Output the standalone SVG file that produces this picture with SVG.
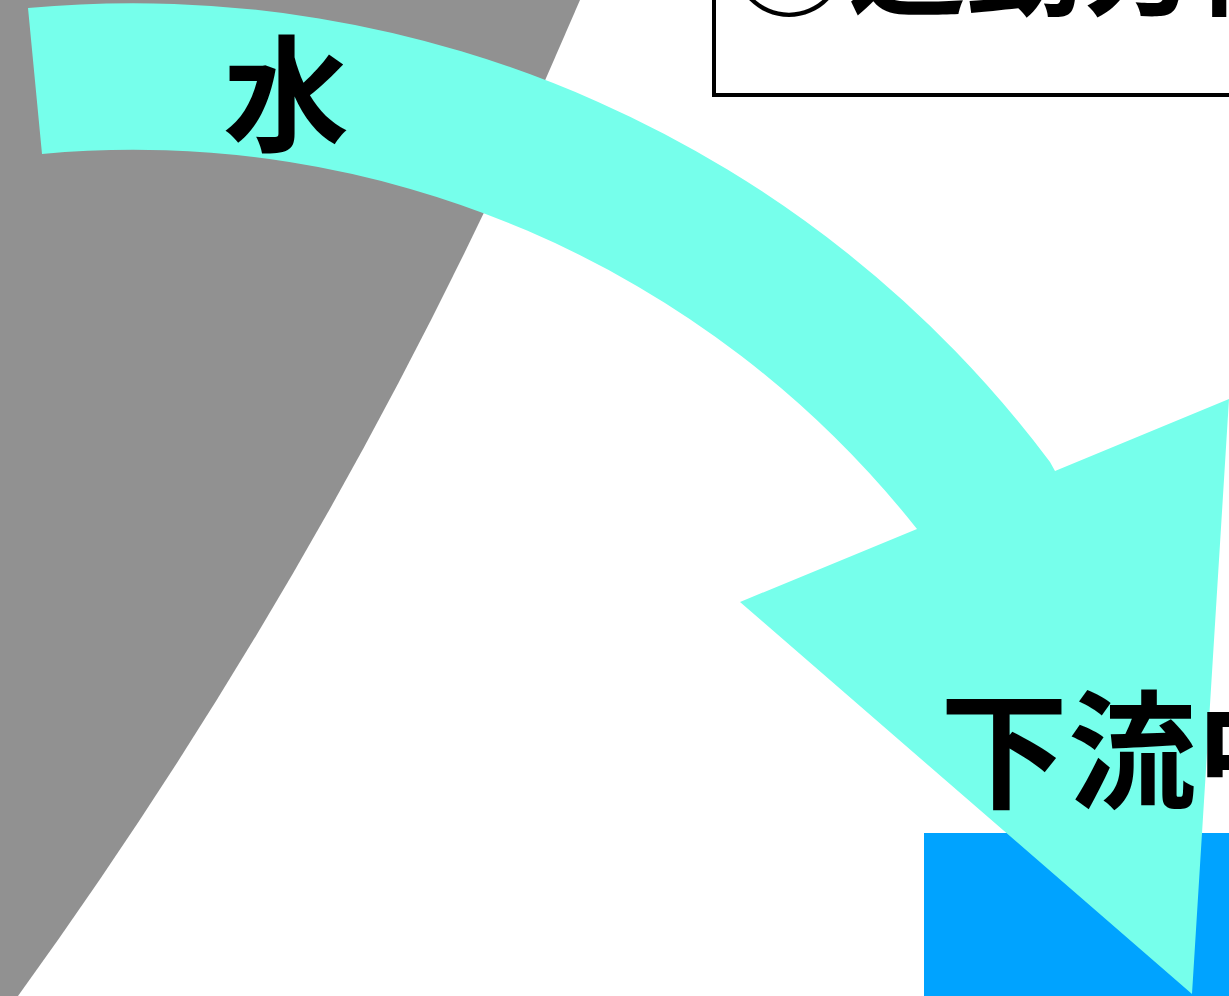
<svg xmlns="http://www.w3.org/2000/svg" width="1229" height="996" viewBox="0 0 1229 996">
<style>
.t{font-family:"Noto Sans CJK JP","Noto Sans CJK SC",sans-serif;font-weight:bold;fill:#000}
</style>
<rect width="1229" height="996" fill="#fff"/>
<g id="ground">
<path d="M0,0 L580,0 A5100,5100 0 0 1 18,996 L0,996 Z" fill="#919191"/>
</g>
<g id="box">
<rect x="714" y="-60" width="600" height="155" fill="#fff" stroke="#000" stroke-width="4"/>
<text class="t" x="730" y="6" font-size="118">②運動方向</text>
</g>
<g id="river">
<rect x="924" y="833" width="320" height="180" fill="#00A3FF"/>
</g>
<g id="connectors">
<path d="M28,8 A1146,1146 0 0 1 1050,462 L1055,471 L1229,399 L1192,994 L740,602 L917,529 A999,999 0 0 0 42,154 Z" fill="#76FFEB"/>
</g>
<g id="labels">
<text class="t" x="286" y="142" font-size="126" text-anchor="middle">水</text>
<text class="t" x="940" y="799" font-size="128">下流中</text>
</g>
</svg>
